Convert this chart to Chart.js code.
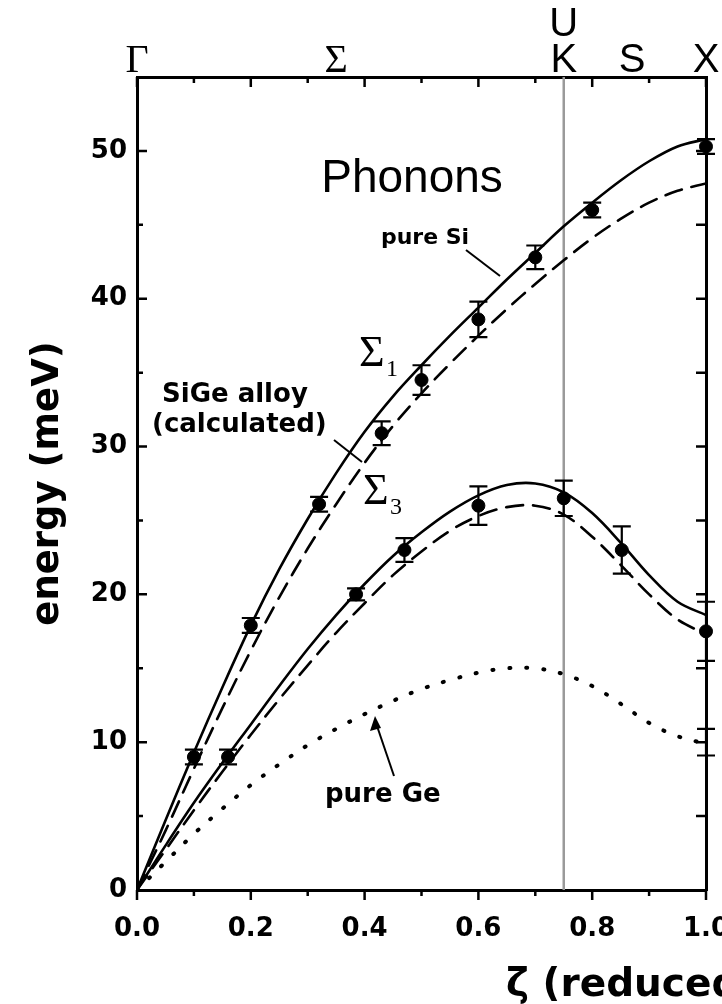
<!DOCTYPE html>
<html>
<head>
<meta charset="utf-8">
<script src="https://cdn.jsdelivr.net/npm/chart.js@4.4.1/dist/chart.umd.min.js"></script>
<style>
  html, body { margin: 0; padding: 0; background: #fff; }
  #wrap { width: 722px; height: 1004px; }
</style>
</head>
<body>
<div id="wrap"><canvas id="phononChart" width="722" height="1004"></canvas></div>
<script>
// 곡선 x 좌표 (ζ)
const zeta = [0, 0.05, 0.1, 0.15, 0.2, 0.25, 0.3, 0.35, 0.4, 0.45, 0.5,
              0.55, 0.6, 0.65, 0.7, 0.75, 0.8, 0.85, 0.9, 0.95, 1.0];

// 계산 곡선 (meV)
const siSigma1    = [0, 4.7, 9.3, 13.7, 17.9, 21.7, 25.1, 28.2, 31.0, 33.4, 35.5,
                     37.5, 39.4, 41.3, 43.1, 44.9, 46.5, 48.0, 49.3, 50.3, 50.8];
const alloySigma1 = [0, 4.0, 8.2, 12.3, 16.2, 19.8, 23.1, 26.1, 28.9, 31.4, 33.6,
                     35.6, 37.5, 39.3, 41.0, 42.6, 44.1, 45.4, 46.5, 47.3, 47.8];
const siSigma3    = [0, 3.0, 5.9, 8.6, 11.2, 13.8, 16.3, 18.6, 20.7, 22.6, 24.2,
                     25.6, 26.7, 27.4, 27.5, 26.9, 25.5, 23.5, 21.3, 19.5, 18.6];
const alloySigma3 = [0, 2.7, 5.4, 8.0, 10.5, 12.9, 15.2, 17.4, 19.4, 21.3, 22.9,
                     24.3, 25.3, 25.9, 26.0, 25.4, 23.9, 22.0, 20.0, 18.3, 17.3];
const geSigma3    = [0, 1.9, 3.8, 5.5, 7.1, 8.5, 9.8, 10.9, 11.9, 12.8, 13.6,
                     14.2, 14.7, 15.0, 15.0, 14.6, 13.8, 12.6, 11.3, 10.4, 9.9];

// 측정점 (SiGe 합금)
const meas1X   = [0.1, 0.2, 0.32, 0.43, 0.5, 0.6, 0.7, 0.8, 1.0];
const meas1Y   = [9.0, 17.9, 26.1, 30.9, 34.5, 38.6, 42.8, 46.0, 50.3];
const meas1Err = [0.5, 0.5, 0.5, 0.8, 1.0, 1.2, 0.8, 0.5, 0.5];
const meas3X   = [0.16, 0.385, 0.47, 0.6, 0.75, 0.852, 1.0];
const meas3Y   = [9.0, 20.0, 23.0, 26.0, 26.5, 23.0, 17.5];
const meas3Err = [0.5, 0.4, 0.8, 1.3, 1.2, 1.6, 2.0];
// 경계(X점)에서 일부만 보이는 오차 막대
const edgeX   = [1.0];
const edgeY   = [10.0];
const edgeErr = [0.9];

// 눈금
const xMinorTicks = [0.1, 0.3, 0.5, 0.7, 0.9];
const xMajorTicks = [0, 0.2, 0.4, 0.6, 0.8, 1.0];
const yMajorTicks = [10, 20, 30, 40, 50];
const yMinorTicks = [5, 15, 25, 35, 45];
const kPoint = 0.75;

// 상단 대칭점 라벨
const topLabels = [
  { text: 'Γ', at: 0.0, serif: true },
  { text: 'Σ', at: 0.35, serif: true },
  { text: 'K', at: 0.75, serif: false },
  { text: 'S', at: 0.87, serif: false },
  { text: 'X', at: 1.0, serif: false }
];

const BOLD = 'bold 26px "DejaVu Sans"';

function pts(xs, ys) {
  return xs.map((x, i) => ({ x: x, y: ys[i] }));
}

function curve(data, dash, width) {
  return {
    type: 'line',
    data: pts(zeta, data),
    borderColor: '#000',
    borderWidth: width,
    borderDash: dash,
    pointRadius: 0,
    tension: 0.35,
    fill: false
  };
}

// 장식 플러그인: 눈금, K 선, 오차 막대, 주석
const decor = {
  id: 'decor',
  beforeDatasetsDraw(chart) {
    const ctx = chart.ctx;
    const xs = chart.scales.x;
    const a = chart.chartArea;
    const kx = xs.getPixelForValue(kPoint);
    ctx.save();
    ctx.strokeStyle = '#9a9a9a';
    ctx.lineWidth = 2.5;
    ctx.beginPath();
    ctx.moveTo(kx, a.top);
    ctx.lineTo(kx, a.bottom);
    ctx.stroke();
    ctx.restore();
  },
  afterDatasetsDraw(chart) {
    const ctx = chart.ctx;
    const xs = chart.scales.x, ys = chart.scales.y;
    const a = chart.chartArea;
    ctx.save();
    ctx.strokeStyle = '#000';
    ctx.lineWidth = 2.2;
    const bars = (X, Y, E) => {
      X.forEach((v, i) => {
        const px = xs.getPixelForValue(v);
        const t = ys.getPixelForValue(Y[i] + E[i]);
        const b = ys.getPixelForValue(Y[i] - E[i]);
        ctx.beginPath();
        ctx.moveTo(px, t); ctx.lineTo(px, b);
        ctx.moveTo(px - 9, t); ctx.lineTo(px + 9, t);
        ctx.moveTo(px - 9, b); ctx.lineTo(px + 9, b);
        ctx.stroke();
      });
    };
    bars(meas1X, meas1Y, meas1Err);
    bars(meas3X, meas3Y, meas3Err);
    bars(edgeX, edgeY, edgeErr);

    // 눈금
    ctx.lineWidth = 2.5;
    ctx.beginPath();
    xMajorTicks.concat(xMinorTicks).forEach(v => {
      const px = xs.getPixelForValue(v);
      const len = xMinorTicks.includes(v) ? 6 : 10;
      ctx.moveTo(px, a.bottom); ctx.lineTo(px, a.bottom + len);
      ctx.moveTo(px, a.top); ctx.lineTo(px, a.top + len);
    });
    yMajorTicks.concat(yMinorTicks).forEach(v => {
      const py = ys.getPixelForValue(v);
      const len = yMinorTicks.includes(v) ? 6 : 10;
      ctx.moveTo(a.left, py); ctx.lineTo(a.left + len, py);
      ctx.moveTo(a.right, py); ctx.lineTo(a.right - 10, py);
    });
    ctx.stroke();

    // 상단 라벨
    ctx.fillStyle = '#000';
    ctx.textAlign = 'center';
    ctx.textBaseline = 'alphabetic';
    topLabels.forEach(l => {
      ctx.font = l.serif ? '40px "Liberation Serif"' : '40px "Liberation Sans"';
      ctx.fillText(l.text, xs.getPixelForValue(l.at), 72);
    });
    ctx.font = '40px "Liberation Sans"';
    ctx.fillText('U', xs.getPixelForValue(kPoint), 36);

    // Phonons
    ctx.font = '46px "Liberation Sans"';
    ctx.fillText('Phonons', 412, 192);

    // pure Si
    ctx.font = 'bold 22px "DejaVu Sans"';
    ctx.fillText('pure Si', 425, 244);
    ctx.lineWidth = 2;
    ctx.beginPath();
    ctx.moveTo(466, 250); ctx.lineTo(500, 276);
    ctx.stroke();

    // SiGe alloy
    ctx.font = BOLD;
    ctx.textAlign = 'left';
    ctx.fillText('SiGe alloy', 162, 402);
    ctx.fillText('(calculated)', 152, 432);
    ctx.beginPath();
    ctx.moveTo(334, 440); ctx.lineTo(362, 462);
    ctx.stroke();

    // pure Ge
    ctx.fillText('pure Ge', 325, 802);
    ctx.beginPath();
    ctx.moveTo(394, 776); ctx.lineTo(377, 726);
    ctx.stroke();
    ctx.beginPath();
    ctx.moveTo(375, 716); ctx.lineTo(370, 731); ctx.lineTo(381, 728);
    ctx.closePath();
    ctx.fill();

    // Σ1, Σ3
    ctx.font = '44px "Liberation Serif"';
    ctx.fillText('Σ', 359, 366);
    ctx.fillText('Σ', 363, 504);
    ctx.font = '24px "Liberation Serif"';
    ctx.fillText('1', 386, 376);
    ctx.fillText('3', 390, 514);

    // x 축 제목
    ctx.font = 'bold 39px "DejaVu Sans"';
    ctx.fillText('ζ (reduced wave vector)', 506, 996);
    ctx.restore();
  }
};

const canvas = document.getElementById('phononChart');
new Chart(canvas, {
  type: 'scatter',
  data: {
    datasets: [
      curve(siSigma1, [], 2.6),
      curve(alloySigma1, [17, 10], 2.6),
      curve(siSigma3, [], 2.6),
      curve(alloySigma3, [17, 10], 2.6),
      curve(geSigma3, [1, 16], 4),
      {
        type: 'scatter',
        data: pts(meas1X, meas1Y).concat(pts(meas3X, meas3Y)),
        pointRadius: 6.5,
        pointBackgroundColor: '#000',
        pointBorderColor: '#000',
        pointBorderWidth: 1,
        clip: false
      }
    ]
  },
  options: {
    responsive: false,
    animation: false,
    layout: { padding: 0 },
    plugins: { legend: { display: false }, tooltip: { enabled: false } },
    elements: { line: { borderCapStyle: 'round' } },
    scales: {
      x: {
        type: 'linear', position: 'bottom', min: 0, max: 1,
        afterFit(s) { s.height = 114; s.paddingLeft = 0; s.paddingRight = 0; },
        grid: { display: false, drawTicks: false },
        border: { display: true, color: '#000', width: 3 },
        ticks: {
          stepSize: 0.2, autoSkip: false, maxRotation: 0, padding: 24,
          color: '#000', font: { family: 'DejaVu Sans', weight: 'bold', size: 26 },
          callback: v => Number(v).toFixed(1)
        }
      },
      xTop: {
        type: 'linear', position: 'top', min: 0, max: 1,
        afterFit(s) { s.height = 77; s.paddingLeft = 0; s.paddingRight = 0; },
        grid: { display: false, drawTicks: false },
        border: { display: true, color: '#000', width: 3 },
        ticks: { display: false }
      },
      y: {
        type: 'linear', position: 'left', min: 0, max: 55,
        afterFit(s) { s.width = 137; s.paddingTop = 0; s.paddingBottom = 0; },
        grid: { display: false, drawTicks: false },
        border: { display: true, color: '#000', width: 3 },
        ticks: {
          stepSize: 10, padding: 10, color: '#000',
          font: { family: 'DejaVu Sans', weight: 'bold', size: 26 },
          callback: v => (v % 10 === 0 ? v : '')
        },
        title: {
          display: true, text: 'energy (meV)', color: '#000',
          font: { family: 'DejaVu Sans', weight: 'bold', size: 37 },
          padding: { top: 26, bottom: 0 }
        }
      },
      yRight: {
        type: 'linear', position: 'right', min: 0, max: 55,
        afterFit(s) { s.width = 16; s.paddingTop = 0; s.paddingBottom = 0; },
        grid: { display: false, drawTicks: false },
        border: { display: true, color: '#000', width: 3 },
        ticks: { display: false }
      }
    }
  },
  plugins: [decor]
});
</script>
</body>
</html>
